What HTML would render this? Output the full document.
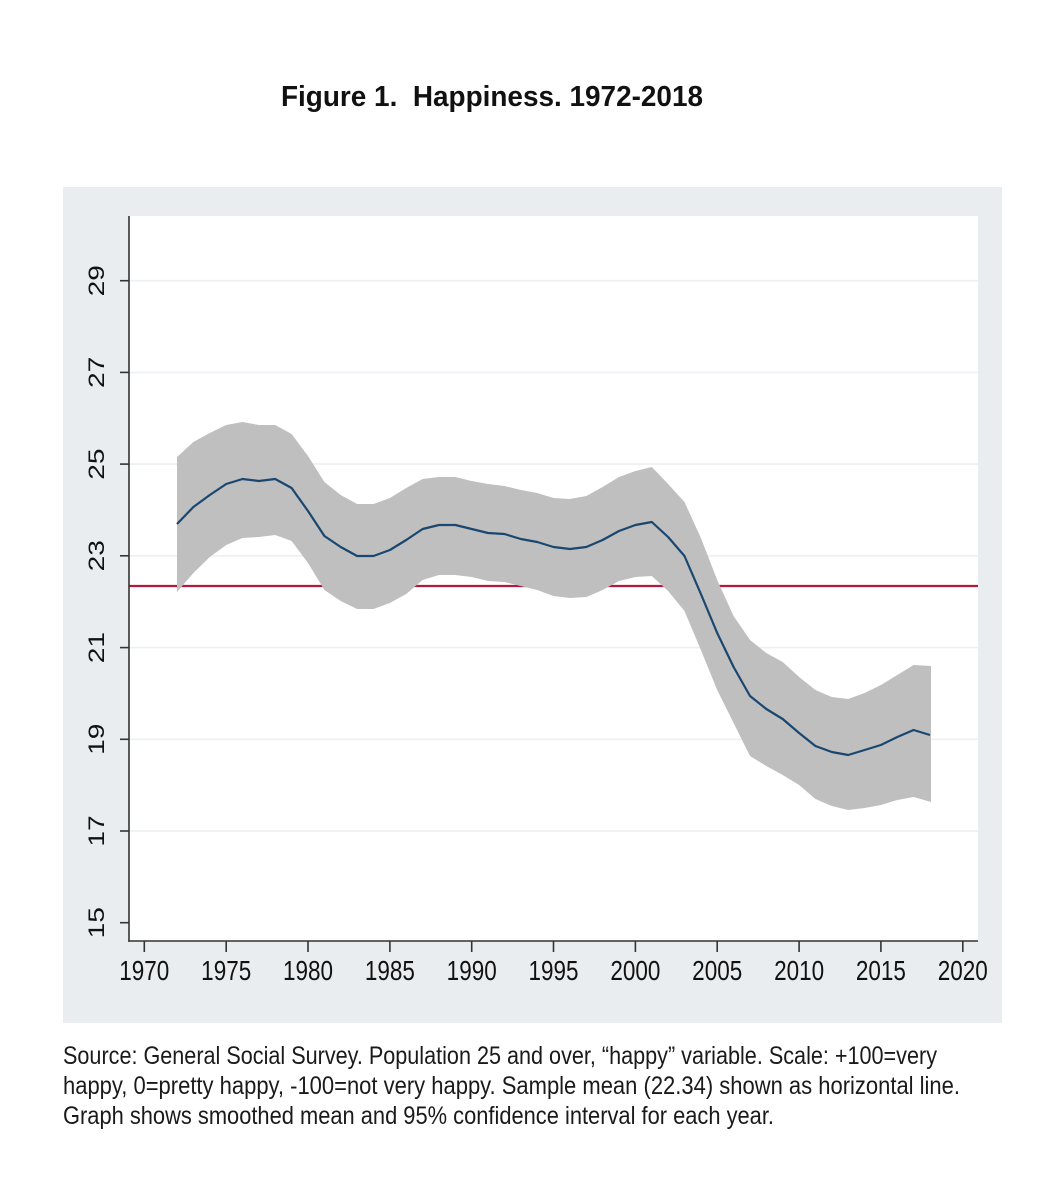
<!DOCTYPE html>
<html>
<head>
<meta charset="utf-8">
<style>
  html, body { margin: 0; padding: 0; background: #ffffff; }
  body { width: 1048px; height: 1200px; overflow: hidden; }
  svg { display: block; }
</style>
</head>
<body>
<svg width="1048" height="1200" viewBox="0 0 1048 1200" xmlns="http://www.w3.org/2000/svg">
  <rect x="0" y="0" width="1048" height="1200" fill="#ffffff"/>

  <!-- Title -->
  <text x="281" y="106" font-family="Liberation Sans, Arial, sans-serif" font-weight="bold" font-size="29" fill="#111" textLength="422" lengthAdjust="spacingAndGlyphs" xml:space="preserve">Figure 1.  Happiness. 1972-2018</text>

  <!-- Graph panel background -->
  <rect x="63" y="187" width="939" height="836" fill="#e9edf0"/>
  <!-- Plot region -->
  <rect x="129" y="216" width="849" height="725" fill="#ffffff"/>

  <!-- Gridlines -->
  <g stroke="#eceff3" stroke-width="1.6">
    <line x1="129" y1="831.0" x2="978" y2="831.0"/>
    <line x1="129" y1="739.3" x2="978" y2="739.3"/>
    <line x1="129" y1="647.6" x2="978" y2="647.6"/>
    <line x1="129" y1="555.8" x2="978" y2="555.8"/>
    <line x1="129" y1="464.1" x2="978" y2="464.1"/>
    <line x1="129" y1="372.4" x2="978" y2="372.4"/>
    <line x1="129" y1="280.7" x2="978" y2="280.7"/>
  </g>

  <!-- Sample mean line -->
  <line x1="129" y1="586" x2="978" y2="586" stroke="#b3193f" stroke-width="2.2"/>

  <!-- Confidence band -->
  <polygon fill="#bfbfbf" points="
177.0,457 193.4,442 209.8,433 226.2,425 242.5,422 258.9,425 275.2,425 291.6,434 308.0,456 324.4,482
340.7,495 357.1,504 373.5,504 389.9,498 406.2,488 422.6,479 439.0,477 455.3,477 471.7,481 488.0,484
504.4,486 520.8,490 537.2,493 553.5,498 569.9,499 586.3,496 602.6,487 619.0,477 635.4,471 651.8,467
668.1,484 684.5,502 700.9,538 717.2,580 733.6,616 750.0,640 766.3,653 782.7,662 799.1,677 815.4,690
831.8,697 848.2,699 864.6,693 880.9,685 897.3,675 913.6,665 931.0,666
931.0,802 913.6,797 897.3,800 880.9,805 864.6,808 848.2,810 831.8,806 815.4,799 799.1,785 782.7,775
766.3,766 750.0,756 733.6,723 717.2,690 700.9,650 684.5,611 668.1,591 651.8,576 635.4,577 619.0,581
602.6,590 586.3,597 569.9,598 553.5,596 537.2,590 520.8,586 504.4,582 488.0,581 471.7,577 455.3,575
439.0,575 422.6,580 406.2,594 389.9,603 373.5,609 357.1,609 340.7,601 324.4,590 308.0,563 291.6,541
275.2,535 258.9,537 242.5,538 226.2,545 209.8,557 193.4,573 177.0,592"/>

  <!-- Smoothed mean line -->
  <polyline fill="none" stroke="#1a476f" stroke-width="2.2" stroke-linejoin="round" points="
177.0,524 193.4,507 209.8,495 226.2,484 242.5,479 258.9,481 275.2,479 291.6,488 308.0,511 324.4,536
340.7,547 357.1,556 373.5,556 389.9,550 406.2,540 422.6,529 439.0,525 455.3,525 471.7,529 488.0,533
504.4,534 520.8,539 537.2,542 553.5,547 569.9,549 586.3,547 602.6,540 619.0,531 635.4,525 651.8,522
668.1,537 684.5,556 700.9,594 717.2,633 733.6,667 750.0,696 766.3,709 782.7,719 799.1,733 815.4,746
831.8,752 848.2,755 864.6,750 880.9,745 897.3,737 913.6,730 930.0,735"/>

  <!-- Axes -->
  <g stroke="#333333" stroke-width="1.6">
    <line x1="129" y1="216" x2="129" y2="941.8"/>
    <line x1="128.2" y1="941" x2="978" y2="941"/>
    <!-- y ticks -->
    <line x1="120" y1="922.7" x2="129" y2="922.7"/>
    <line x1="120" y1="831.0" x2="129" y2="831.0"/>
    <line x1="120" y1="739.3" x2="129" y2="739.3"/>
    <line x1="120" y1="647.6" x2="129" y2="647.6"/>
    <line x1="120" y1="555.8" x2="129" y2="555.8"/>
    <line x1="120" y1="464.1" x2="129" y2="464.1"/>
    <line x1="120" y1="372.4" x2="129" y2="372.4"/>
    <line x1="120" y1="280.7" x2="129" y2="280.7"/>
    <!-- x ticks -->
    <line x1="144.3" y1="941" x2="144.3" y2="952"/>
    <line x1="226.2" y1="941" x2="226.2" y2="952"/>
    <line x1="308.0" y1="941" x2="308.0" y2="952"/>
    <line x1="389.9" y1="941" x2="389.9" y2="952"/>
    <line x1="471.7" y1="941" x2="471.7" y2="952"/>
    <line x1="553.5" y1="941" x2="553.5" y2="952"/>
    <line x1="635.4" y1="941" x2="635.4" y2="952"/>
    <line x1="717.2" y1="941" x2="717.2" y2="952"/>
    <line x1="799.1" y1="941" x2="799.1" y2="952"/>
    <line x1="880.9" y1="941" x2="880.9" y2="952"/>
    <line x1="962.8" y1="941" x2="962.8" y2="952"/>
  </g>

  <!-- Y tick labels (rotated) -->
  <g font-family="Liberation Sans, Arial, sans-serif" font-size="22.5" fill="#111" text-anchor="middle">
    <text transform="translate(104,922.7) scale(1,1.25) rotate(-90)">15</text>
    <text transform="translate(104,831.0) scale(1,1.25) rotate(-90)">17</text>
    <text transform="translate(104,739.3) scale(1,1.25) rotate(-90)">19</text>
    <text transform="translate(104,647.6) scale(1,1.25) rotate(-90)">21</text>
    <text transform="translate(104,555.8) scale(1,1.25) rotate(-90)">23</text>
    <text transform="translate(104,464.1) scale(1,1.25) rotate(-90)">25</text>
    <text transform="translate(104,372.4) scale(1,1.25) rotate(-90)">27</text>
    <text transform="translate(104,280.7) scale(1,1.25) rotate(-90)">29</text>
  </g>

  <!-- X tick labels -->
  <g font-family="Liberation Sans, Arial, sans-serif" font-size="22.5" fill="#111" text-anchor="middle">
    <text transform="translate(144.3,980) scale(1,1.25)">1970</text>
    <text transform="translate(226.2,980) scale(1,1.25)">1975</text>
    <text transform="translate(308.0,980) scale(1,1.25)">1980</text>
    <text transform="translate(389.9,980) scale(1,1.25)">1985</text>
    <text transform="translate(471.7,980) scale(1,1.25)">1990</text>
    <text transform="translate(553.5,980) scale(1,1.25)">1995</text>
    <text transform="translate(635.4,980) scale(1,1.25)">2000</text>
    <text transform="translate(717.2,980) scale(1,1.25)">2005</text>
    <text transform="translate(799.1,980) scale(1,1.25)">2010</text>
    <text transform="translate(880.9,980) scale(1,1.25)">2015</text>
    <text transform="translate(962.8,980) scale(1,1.25)">2020</text>
  </g>

  <!-- Source note -->
  <g font-family="Liberation Sans, Arial, sans-serif" font-size="25" fill="#1a1a1a">
    <text x="63" y="1064" textLength="874" lengthAdjust="spacingAndGlyphs">Source: General Social Survey. Population 25 and over, “happy” variable. Scale: +100=very</text>
    <text x="63" y="1094" textLength="897" lengthAdjust="spacingAndGlyphs">happy, 0=pretty happy, -100=not very happy. Sample mean (22.34) shown as horizontal line.</text>
    <text x="63" y="1124" textLength="711" lengthAdjust="spacingAndGlyphs">Graph shows smoothed mean and 95% confidence interval for each year.</text>
  </g>
</svg>
</body>
</html>
